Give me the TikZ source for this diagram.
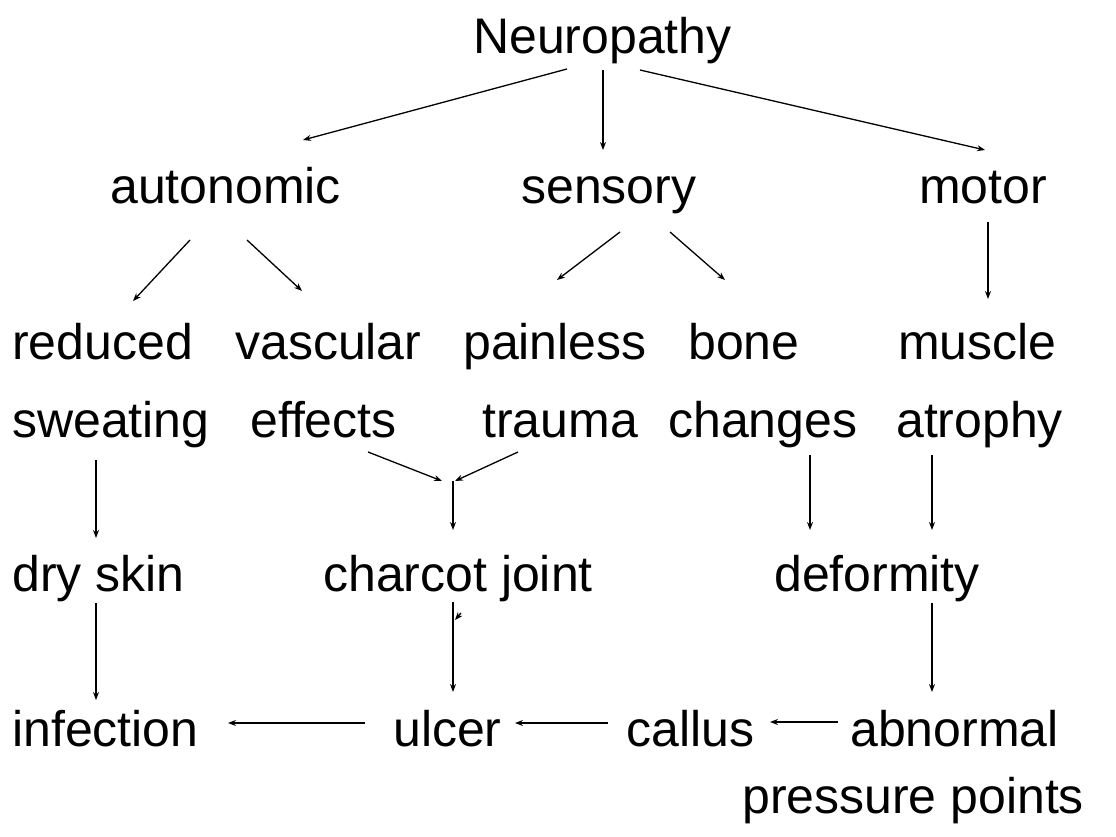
\documentclass[tikz,border=0pt]{standalone}
\usepackage{fontspec}
\setmainfont{Liberation Sans}
\usetikzlibrary{arrows.meta}

\begin{document}
\begin{tikzpicture}[
    x=1pt, y=-1pt,
    word/.style={anchor=base west, inner sep=0pt, font=\fontsize{50}{60}\selectfont},
    arr/.style={-{Stealth[length=8pt, width=6pt]}, line width=1.3pt},
]
\useasboundingbox (0,0) rectangle (1116,837);

% Top
\node[word] (neuro) at (473,54) {Neuropathy};

% Types
\node[word] (auto)  at (110,204) {autonomic};
\node[word] (sens)  at (521,204) {sensory};
\node[word] (motor) at (919,204) {motor};

% Effects, first line
\node[word] (reduced)  at (12,359)  {reduced};
\node[word] (vascular) at (235,359) {vascular};
\node[word] (painless) at (463,359) {painless};
\node[word] (bone)     at (688,359) {bone};
\node[word] (muscle)   at (898,359) {muscle};

% Effects, second line
\node[word] (sweating) at (12,437)  {sweating};
\node[word] (effects)  at (250,437) {effects};
\node[word] (trauma)   at (482,437) {trauma};
\node[word] (changes)  at (668,437) {changes};
\node[word] (atrophy)  at (896,437) {atrophy};

% Results
\node[word] (dry)     at (12,591)  {dry skin};
\node[word] (charcot) at (323,591) {charcot joint};
\node[word] (deform)  at (774,591) {deformity};

% Bottom row
\node[word] (infect)   at (12,746)  {infection};
\node[word] (ulcer)    at (393,746) {ulcer};
\node[word] (callus)   at (626,746) {callus};
\node[word] (abnormal) at (850,746) {abnormal};
\node[word] (pressure) at (742,813) {pressure points};

\coordinate (join) at (453,481);

% Neuropathy to types
\draw[arr] ([shift={(94,15)}]neuro.base west) -- ([shift={(193,-64)}]auto.base west);
\draw[arr] ([shift={(130,16)}]neuro.base west) -- ([shift={(82,-54)}]sens.base west);
\draw[arr] ([shift={(167,16)}]neuro.base west) -- ([shift={(66,-54)}]motor.base west);

% Types to effects
\draw[arr] ([shift={(80,36)}]auto.base west) -- ([shift={(121,-58)}]reduced.base west);
\draw[arr] ([shift={(137,36)}]auto.base west) -- ([shift={(67,-68)}]vascular.base west);
\draw[arr] ([shift={(99,28)}]sens.base west) -- ([shift={(94,-79)}]painless.base west);
\draw[arr] ([shift={(149,28)}]sens.base west) -- ([shift={(37,-79)}]bone.base west);
\draw[arr] ([shift={(69,18)}]motor.base west) -- ([shift={(90,-60)}]muscle.base west);

% Effects to results
\draw[arr] ([shift={(84,23)}]sweating.base west) -- ([shift={(84,-53)}]dry.base west);
\draw[arr] ([shift={(118,15)}]effects.base west) -- ([xshift=-11pt]join);
\draw[arr] ([shift={(36,15)}]trauma.base west) -- ([xshift=2pt]join);
\draw[arr] (join) -- ([shift={(130,-61)}]charcot.base west);
\draw[arr] ([shift={(142,18)}]changes.base west) -- ([shift={(36,-61)}]deform.base west);
\draw[arr] ([shift={(36,18)}]atrophy.base west) -- ([shift={(158,-61)}]deform.base west);

% Results to bottom row
\draw[arr] ([shift={(84,12)}]dry.base west) -- ([shift={(84,-46)}]infect.base west);
\draw[arr] ([shift={(130,11)}]charcot.base west) -- ([shift={(60,-54)}]ulcer.base west);
\draw[arr] ([shift={(138,22)}]charcot.base west) -- ([shift={(132,29)}]charcot.base west);
\draw[arr] ([shift={(158,12)}]deform.base west) -- ([shift={(82,-54)}]abnormal.base west);

% Bottom row, right to left
\draw[arr] ([shift={(-12,-24)}]abnormal.base west) -- ([shift={(144,-24)}]callus.base west);
\draw[arr] ([shift={(-18,-23)}]callus.base west) -- ([shift={(122,-23)}]ulcer.base west);
\draw[arr] ([shift={(-28,-23)}]ulcer.base west) -- ([shift={(216,-23)}]infect.base west);

\end{tikzpicture}
\end{document}
